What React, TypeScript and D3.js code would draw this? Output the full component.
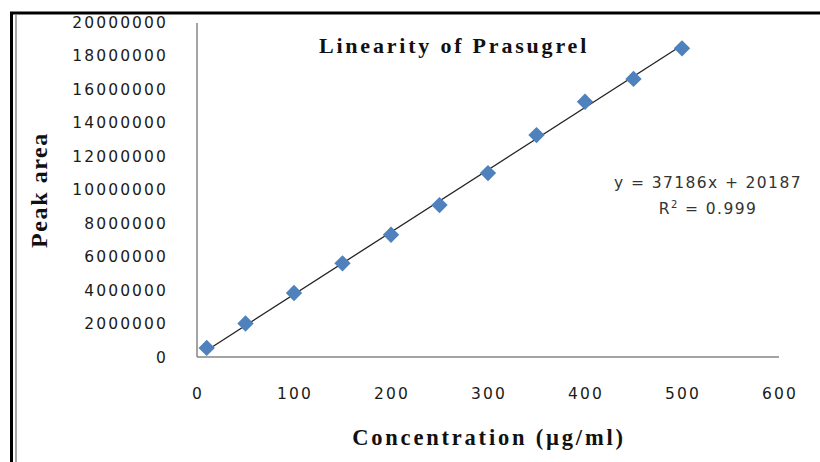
import React, { useEffect, useRef } from "react";
import * as d3 from "d3";

const concentrations = [10, 50, 100, 150, 200, 250, 300, 350, 400, 450, 500];
const peakAreas = [540000, 2000000, 3820000, 5590000, 7300000, 9070000, 10980000, 13250000, 15240000, 16600000, 18430000];
const xTicks = [0, 100, 200, 300, 400, 500, 600];
const yTicks = [0, 2000000, 4000000, 6000000, 8000000, 10000000, 12000000, 14000000, 16000000, 18000000, 20000000];
const slope = 37186;
const intercept = 20187;

const App = () => {
  const ref = useRef<SVGSVGElement | null>(null);

  useEffect(() => {
    const svg = d3.select(ref.current);
    svg.selectAll("*").remove();

    const x = d3.scaleLinear().domain([0, 600]).range([197, 779]);
    const y = d3.scaleLinear().domain([0, 20000000]).range([357, 22]);

    // frame
    svg.append("line").attr("x1", 10).attr("x2", 820).attr("y1", 13).attr("y2", 13)
      .attr("stroke", "#000").attr("stroke-width", 3);
    svg.append("line").attr("x1", 11.5).attr("x2", 11.5).attr("y1", 12).attr("y2", 462)
      .attr("stroke", "#000").attr("stroke-width", 3);
    svg.append("line").attr("x1", 16).attr("x2", 16).attr("y1", 15).attr("y2", 462)
      .attr("stroke", "#aaa").attr("stroke-width", 2);

    // axes
    const tickFont = "'DejaVu Sans', Verdana, sans-serif";
    svg.append("line").attr("x1", x(0)).attr("x2", x(600)).attr("y1", y(0)).attr("y2", y(0))
      .attr("stroke", "#868686").attr("stroke-width", 1.5);
    svg.append("line").attr("x1", x(0)).attr("x2", x(0)).attr("y1", y(0)).attr("y2", y(20000000) + 1)
      .attr("stroke", "#868686").attr("stroke-width", 1.5);

    svg.append("g").selectAll("text").data(yTicks).enter().append("text")
      .attr("x", 168).attr("y", d => y(d)).attr("dy", "0.36em")
      .attr("text-anchor", "end").attr("font-family", tickFont).attr("font-size", 15.5)
      .attr("letter-spacing", 2.1).attr("fill", "#1a1a1a").text(d => String(d));

    svg.append("g").selectAll("text").data(xTicks).enter().append("text")
      .attr("x", d => x(d) + 1).attr("y", 393).attr("dy", "0.36em")
      .attr("text-anchor", "middle").attr("font-family", tickFont).attr("font-size", 15.5)
      .attr("letter-spacing", 2.1).attr("fill", "#1a1a1a").text(d => String(d));

    // trend line
    const xs = d3.extent(concentrations) as [number, number];
    svg.append("line")
      .attr("x1", x(xs[0])).attr("y1", y(slope * xs[0] + intercept))
      .attr("x2", x(xs[1])).attr("y2", y(slope * xs[1] + intercept))
      .attr("stroke", "#222").attr("stroke-width", 1.3);

    // markers
    const diamond = d3.symbol().type(d3.symbolDiamond2).size(170);
    svg.append("g").selectAll("path").data(concentrations).enter().append("path")
      .attr("d", diamond)
      .attr("transform", (d, i) => `translate(${x(d)},${y(peakAreas[i])})`)
      .attr("fill", "#4F81BD");

    // titles
    const serif = "'Liberation Serif', 'Times New Roman', serif";
    svg.append("text").attr("x", 454).attr("y", 53).attr("text-anchor", "middle")
      .attr("font-family", serif).attr("font-weight", "bold").attr("font-size", 22)
      .attr("letter-spacing", 2.8).attr("fill", "#111").text("Linearity of Prasugrel");

    svg.append("text").attr("transform", "translate(47,190) rotate(-90)").attr("text-anchor", "middle")
      .attr("font-family", serif).attr("font-weight", "bold").attr("font-size", 24)
      .attr("letter-spacing", 1.6).attr("fill", "#111").text("Peak area");

    svg.append("text").attr("x", 489).attr("y", 445).attr("text-anchor", "middle")
      .attr("font-family", serif).attr("font-weight", "bold").attr("font-size", 22.5)
      .attr("letter-spacing", 2.8).attr("fill", "#111").text("Concentration (µg/ml)");

    // equation
    const eq = svg.append("text").attr("font-family", tickFont).attr("font-size", 15.5)
      .attr("fill", "#333").attr("text-anchor", "middle").attr("letter-spacing", 1.4);
    eq.append("tspan").attr("x", 708).attr("y", 188).text(`y = ${slope}x + ${intercept}`);
    const r2 = eq.append("tspan").attr("x", 708).attr("y", 214);
    r2.append("tspan").text("R");
    r2.append("tspan").attr("font-size", 10).attr("dy", -6).text("2");
    r2.append("tspan").attr("dy", 6).text(" = 0.999");
  }, []);

  return (
    <svg ref={ref} width={820} height={462}
      style={{ position: "absolute", left: 0, top: 0, background: "#fff" }} />
  );
};

export default App;
